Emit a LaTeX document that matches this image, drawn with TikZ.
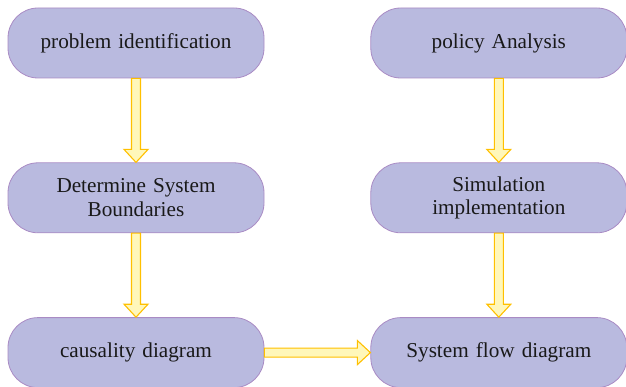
\documentclass[tikz,border=0pt]{standalone}
\usepackage{fontspec}
\setmainfont{Liberation Serif}
\usetikzlibrary{positioning, calc}
\definecolor{boxfill}{HTML}{B9BADF}
\definecolor{boxline}{HTML}{A98BC4}
\definecolor{arrfill}{HTML}{FFF7BA}
\definecolor{arrline}{HTML}{FFC000}
\tikzstyle{block} = [rectangle, draw=boxline, fill=boxfill, line width=0.8pt,
    text width=236pt, align=center, rounded corners=30pt,
    minimum width=256pt, minimum height=70pt, text=black!90,
    font=\fontsize{21.2}{23.5}\selectfont]

\begin{document}
\begin{tikzpicture}[
x=1pt, y=1pt,
node distance = 84pt and 106pt,
fat/.style = {draw=arrline, fill=arrfill, line width=1.1pt,
  to path={let \p1=(\tikztostart), \p2=(\tikztotarget),
    \n1={atan2(\y2-\y1,\x2-\x1)}, \n2={veclen(\x2-\x1,\y2-\y1)} in
    ([shift={(\p1)},rotate=\n1]0,-4.5) -- ([shift={(\p1)},rotate=\n1]\n2-13,-4.5)
    -- ([shift={(\p1)},rotate=\n1]\n2-13,-12) -- ([shift={(\p1)},rotate=\n1]\n2,0)
    -- ([shift={(\p1)},rotate=\n1]\n2-13,12) -- ([shift={(\p1)},rotate=\n1]\n2-13,4.5)
    -- ([shift={(\p1)},rotate=\n1]0,4.5) -- cycle}}
                        ]
\useasboundingbox (0,0) rectangle (626,-387);
\node [block] (prob) at (136,-43) {problem identification};
\node [block, below=of prob] (bound) {Determine System\\Boundaries};
\node [block, below=of bound] (caus) {causality diagram};
\node [block, right=of caus] (flow) {System flow diagram};
\node [block, above=of flow] (sim) {Simulation\\implementation};
\node [block, above=of sim] (policy) {policy Analysis};

\draw [fat] (prob.south) to (bound.north);
\draw [fat] (bound.south) to (caus.north);
\draw [fat] (caus.east) to (flow.west);
\draw [fat] (policy.south) to (sim.north);
\draw [fat] (sim.south) to (flow.north);
\end{tikzpicture}
\end{document}
